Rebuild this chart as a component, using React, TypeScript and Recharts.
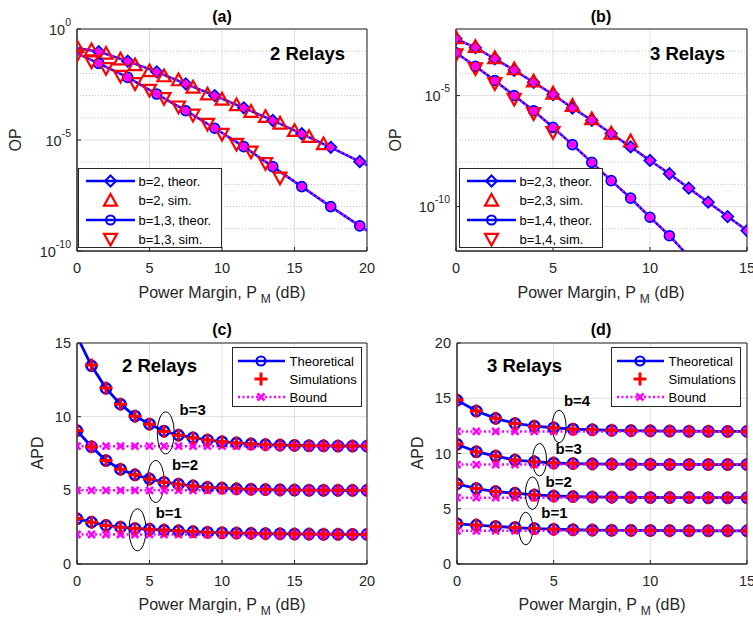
import React from 'react';
import {
  ComposedChart,
  Line,
  XAxis,
  YAxis,
  CartesianGrid,
  ReferenceLine,
  ReferenceDot,
  ReferenceArea,
  Legend,
} from 'recharts';

const FONT = "'Liberation Sans', Arial, Helvetica, sans-serif";
const BLUE = '#0000ff';
const RED = '#ff0000';
const MAG = '#ff00ff';
const AX = '#262626';
const GRID = '#dedede';
const MINOR = '#c2c2c2';

// ---------------- Panel (a): 2 relays, OP (values stored as log10(OP)) ----------------
const aTheorX = [0, 1.5, 3.5, 5.5, 7.5, 9.5, 11.5, 13.5, 15.5, 17.5, 19.5, 20];
const aB2TheorExp = [-0.85, -1.02, -1.45, -1.93, -2.47, -3.0, -3.55, -4.12, -4.72, -5.33, -5.97, -6.13];
const aB13TheorExp = [-1.1, -1.55, -2.18, -2.93, -3.68, -4.47, -5.3, -6.2, -7.1, -8.0, -8.87, -9.08];
const aB2SimX = [0, 1, 2, 3, 4, 5, 6, 7, 8, 9, 10, 11, 12, 13, 14, 15, 16, 17];
const aB2SimExp = [-0.8, -0.95, -1.1, -1.36, -1.62, -1.89, -2.12, -2.3, -2.63, -2.94, -3.17, -3.42, -3.72, -3.95, -4.25, -4.58, -4.85, -5.18];
const aB13SimX = [0, 1, 2, 3, 4, 5, 6, 7, 8, 9, 10, 11, 12, 13, 14];
const aB13SimExp = [-1.17, -1.47, -1.77, -2.12, -2.45, -2.75, -3.12, -3.5, -3.87, -4.28, -4.73, -5.18, -5.53, -6.05, -6.7];
const aXTicks = [0, 5, 10, 15, 20];
const aYTicks = [1e-10, 1e-5, 1];
const aMinorExp = [-1, -2, -3, -4, -6, -7, -8, -9];
const aLegend = ['b=2, theor.', 'b=2, sim.', 'b=1,3, theor.', 'b=1,3, sim.'];

// ---------------- Panel (b): 3 relays, OP (log10 values) ----------------
const bB23TheorX = [0, 1, 2, 3, 4, 5, 6, 7, 8, 9, 10, 11, 12, 13, 14, 15];
const bB23TheorExp = [-2.44, -2.84, -3.34, -3.86, -4.4, -4.95, -5.56, -6.11, -6.71, -7.31, -7.92, -8.52, -9.17, -9.8, -10.45, -11.08];
const bB14TheorX = [0, 1, 2, 3, 4, 5, 6, 7, 8, 9, 10, 11, 12];
const bB14TheorExp = [-3.07, -3.68, -4.32, -5.0, -5.68, -6.43, -7.21, -8.01, -8.83, -9.62, -10.48, -11.31, -12.25];
const bB23SimX = [0, 1, 2, 3, 4, 5, 6, 7, 8, 9];
const bB23SimExp = [-2.4, -2.8, -3.3, -3.8, -4.35, -4.9, -5.45, -6.05, -6.7, -7.05];
const bB14SimX = [0, 1, 2, 3, 4, 5];
const bB14SimExp = [-3.15, -3.78, -4.45, -5.15, -5.8, -6.65];
const bXTicks = [0, 5, 10, 15];
const bYTicks = [1e-10, 1e-5];
const bMinorExp = [-3, -4, -6, -7, -8, -9, -11];
const bLegend = ['b=2,3, theor.', 'b=2,3, sim.', 'b=1,4, theor.', 'b=1,4, sim.'];

// ---------------- Panel (c): 2 relays, APD ----------------
const cX = [0, 1, 2, 3, 4, 5, 6, 7, 8, 9, 10, 11, 12, 13, 14, 15, 16, 17, 18, 19, 20];
const cB3Theor = [15.45, 13.45, 11.92, 10.85, 10.04, 9.5, 9.02, 8.75, 8.57, 8.42, 8.3, 8.22, 8.15, 8.1, 8.07, 8.05, 8.03, 8.02, 8.01, 8.01, 8.0];
const cB2Theor = [9.05, 7.96, 7.02, 6.43, 6.05, 5.78, 5.55, 5.42, 5.3, 5.21, 5.15, 5.1, 5.07, 5.05, 5.03, 5.02, 5.01, 5.01, 5.0, 5.0, 5.0];
const cB1Theor = [3.07, 2.84, 2.62, 2.5, 2.41, 2.37, 2.3, 2.25, 2.2, 2.15, 2.12, 2.1, 2.08, 2.06, 2.05, 2.04, 2.03, 2.02, 2.02, 2.01, 2.01];
const cB3Sim = [15.4, 13.5, 11.95, 10.85, 10.02, 9.48, 9.0, 8.74, 8.56, 8.42, 8.3, 8.22, 8.15, 8.1, 8.07, 8.05, 8.03, 8.02, 8.01, 8.01, 8.0];
const cB2Sim = [9.06, 7.95, 7.03, 6.43, 6.05, 5.77, 5.55, 5.42, 5.3, 5.21, 5.15, 5.1, 5.07, 5.05, 5.03, 5.02, 5.01, 5.01, 5.0, 5.0, 5.0];
const cB1Sim = [3.08, 2.84, 2.62, 2.5, 2.41, 2.36, 2.3, 2.25, 2.2, 2.15, 2.12, 2.1, 2.08, 2.06, 2.05, 2.04, 2.03, 2.02, 2.02, 2.01, 2.01];
const cB3Bound = [8, 8, 8, 8, 8, 8, 8, 8, 8, 8, 8, 8, 8, 8, 8, 8, 8, 8, 8, 8, 8];
const cB2Bound = [5, 5, 5, 5, 5, 5, 5, 5, 5, 5, 5, 5, 5, 5, 5, 5, 5, 5, 5, 5, 5];
const cB1Bound = [2, 2, 2, 2, 2, 2, 2, 2, 2, 2, 2, 2, 2, 2, 2, 2, 2, 2, 2, 2, 2];
const cXTicks = [0, 5, 10, 15, 20];
const cYTicks = [0, 5, 10, 15];
const cEllipses = [
  { x: 6.12, y: 8.9 },
  { x: 5.43, y: 5.6 },
  { x: 4.17, y: 2.32 },
];
const cLabels = [
  { x: 7.98, y: 10.45, text: 'b=3' },
  { x: 7.45, y: 6.72, text: 'b=2' },
  { x: 6.33, y: 3.47, text: 'b=1' },
];

// ---------------- Panel (d): 3 relays, APD ----------------
const dX = [0, 1, 2, 3, 4, 5, 6, 7, 8, 9, 10, 11, 12, 13, 14, 15];
const dB4Theor = [14.83, 13.84, 13.18, 12.72, 12.48, 12.33, 12.21, 12.15, 12.1, 12.07, 12.05, 12.03, 12.02, 12.01, 12.0, 12.0];
const dB3Theor = [10.83, 10.16, 9.77, 9.41, 9.26, 9.14, 9.09, 9.06, 9.04, 9.03, 9.02, 9.01, 9.01, 9.0, 9.0, 9.0];
const dB2Theor = [7.25, 6.83, 6.55, 6.41, 6.25, 6.16, 6.1, 6.07, 6.05, 6.03, 6.02, 6.01, 6.01, 6.0, 6.0, 6.0];
const dB1Theor = [3.64, 3.52, 3.4, 3.3, 3.21, 3.15, 3.1, 3.07, 3.05, 3.04, 3.03, 3.02, 3.01, 3.01, 3.0, 3.0];
const dB4Sim = [14.85, 13.85, 13.2, 12.72, 12.47, 12.33, 12.2, 12.15, 12.1, 12.07, 12.05, 12.03, 12.02, 12.01, 12.0, 12.0];
const dB3Sim = [10.85, 10.15, 9.78, 9.42, 9.26, 9.14, 9.09, 9.06, 9.04, 9.03, 9.02, 9.01, 9.01, 9.0, 9.0, 9.0];
const dB2Sim = [7.26, 6.84, 6.55, 6.41, 6.25, 6.16, 6.1, 6.07, 6.05, 6.03, 6.02, 6.01, 6.01, 6.0, 6.0, 6.0];
const dB1Sim = [3.66, 3.52, 3.4, 3.3, 3.21, 3.15, 3.1, 3.07, 3.05, 3.04, 3.03, 3.02, 3.01, 3.01, 3.0, 3.0];
const dB4Bound = [12, 12, 12, 12, 12, 12, 12, 12, 12, 12, 12, 12, 12, 12, 12, 12];
const dB3Bound = [9, 9, 9, 9, 9, 9, 9, 9, 9, 9, 9, 9, 9, 9, 9, 9];
const dB2Bound = [6, 6, 6, 6, 6, 6, 6, 6, 6, 6, 6, 6, 6, 6, 6, 6];
const dB1Bound = [3, 3, 3, 3, 3, 3, 3, 3, 3, 3, 3, 3, 3, 3, 3, 3];
const dXTicks = [0, 5, 10, 15];
const dYTicks = [0, 5, 10, 15, 20];
const dEllipses = [
  { x: 5.28, y: 12.45 },
  { x: 4.27, y: 9.44 },
  { x: 3.9, y: 6.41 },
  { x: 3.56, y: 3.21 },
];
const dLabels = [
  { x: 6.21, y: 14.8, text: 'b=4' },
  { x: 5.78, y: 10.47, text: 'b=3' },
  { x: 5.26, y: 7.46, text: 'b=2' },
  { x: 5.04, y: 4.69, text: 'b=1' },
];
const apdLegend = ['Theoretical', 'Simulations', 'Bound'];

// ---------------- helpers ----------------
const pts = (xs: number[], ys: number[], isLog = false) =>
  xs.map((x, i) => ({ x, y: isLog ? Math.pow(10, ys[i]) : ys[i] }));

function MarkerShape({ shape, cx, cy, s, stroke, fill = 'none', sw }: any) {
  switch (shape) {
    case 'circle':
      return <circle cx={cx} cy={cy} r={s} stroke={stroke} fill={fill} strokeWidth={sw} />;
    case 'diamond':
      return (
        <polygon
          points={`${cx},${cy - s} ${cx + s},${cy} ${cx},${cy + s} ${cx - s},${cy}`}
          stroke={stroke}
          fill={fill}
          strokeWidth={sw}
          strokeLinejoin="miter"
        />
      );
    case 'triUp':
      return (
        <polygon
          points={`${cx},${cy - s} ${cx + s},${cy + s * 0.8} ${cx - s},${cy + s * 0.8}`}
          stroke={stroke}
          fill={fill}
          strokeWidth={sw}
        />
      );
    case 'triDown':
      return (
        <polygon
          points={`${cx},${cy + s} ${cx + s},${cy - s * 0.8} ${cx - s},${cy - s * 0.8}`}
          stroke={stroke}
          fill={fill}
          strokeWidth={sw}
        />
      );
    case 'plus':
      return (
        <path d={`M${cx - s},${cy}H${cx + s}M${cx},${cy - s}V${cy + s}`} stroke={stroke} strokeWidth={sw} fill="none" />
      );
    case 'x':
      return (
        <path
          d={`M${cx - s},${cy - s}L${cx + s},${cy + s}M${cx - s},${cy + s}L${cx + s},${cy - s}`}
          stroke={stroke}
          strokeWidth={sw}
          fill="none"
        />
      );
    default:
      return <g />;
  }
}

type Spec = {
  id: string;
  data: { x: number; y: number }[];
  color: string;
  lw: number;
  showLine: boolean;
  dash?: string;
  shape: string;
  s: number;
  sw: number;
  fill?: string;
  hide?: (x: number) => boolean;
};

function series(spec: Spec) {
  return (
    <Line
      key={spec.id}
      data={spec.data}
      dataKey="y"
      type="linear"
      stroke={spec.showLine ? spec.color : 'none'}
      strokeWidth={spec.lw}
      strokeDasharray={spec.dash}
      isAnimationActive={false}
      activeDot={false}
      legendType="none"
      dot={(p: any) => {
        const k = `${spec.id}-${p.index}`;
        if (p.cx == null || p.cy == null || (spec.hide && spec.hide(p.payload.x))) return <g key={k} />;
        return (
          <MarkerShape key={k} shape={spec.shape} cx={p.cx} cy={p.cy} s={spec.s} stroke={spec.color} fill={spec.fill ?? 'none'} sw={spec.sw} />
        );
      }}
    />
  );
}

const LogTick = (p: any) => {
  const { x, y, payload } = p;
  const e = Math.round(Math.log10(payload.value));
  return (
    <text x={x} y={y} textAnchor="end" fontFamily={FONT} fill={AX}>
      <tspan fontSize={14.5} dy="0.4em">10</tspan>
      <tspan fontSize={10.5} dy="-0.85em">{e}</tspan>
    </text>
  );
};

type LegendItem = { label: string; line: boolean; dash?: string; color: string; shape: string; s: number; sw: number; fill?: string };

function LegendBox({ items, w, h, rows, lx1, lx2, mx, tx, fs }: any) {
  return (
    <div style={{ width: w, height: h, border: `1px solid ${AX}`, background: '#fff', boxSizing: 'border-box' }}>
      <svg width={w - 2} height={h - 2} style={{ display: 'block' }}>
        {items.map((it: LegendItem, i: number) => (
          <g key={i}>
            {it.line && (
              <line x1={lx1} x2={lx2} y1={rows[i]} y2={rows[i]} stroke={it.color} strokeWidth={2.5} strokeDasharray={it.dash} />
            )}
            <MarkerShape shape={it.shape} cx={mx} cy={rows[i]} s={it.s} stroke={it.color} fill={it.fill ?? 'none'} sw={it.sw} />
            <text x={tx} y={rows[i]} dy="0.36em" fontSize={fs} fontFamily={FONT} fill="#000">
              {it.label}
            </text>
          </g>
        ))}
      </svg>
    </div>
  );
}

const tickStyle = { fill: AX, fontSize: 14.5, fontFamily: FONT };

// ---------------- OP panel ----------------
function OPPanel({ width, height, margin, xDomain, xTicks, yDomain, yTicks, minorExp, specs, legendItems, legendPos }: any) {
  return (
    <ComposedChart width={width} height={height} margin={margin}>
      <CartesianGrid stroke={GRID} strokeWidth={1} />
      {minorExp.map((e: number) => (
        <ReferenceLine key={e} y={Math.pow(10, e)} stroke={MINOR} strokeDasharray="1 2" strokeWidth={1} />
      ))}
      <XAxis
        dataKey="x"
        type="number"
        domain={xDomain}
        ticks={xTicks}
        interval={0}
        allowDataOverflow
        stroke={AX}
        tick={tickStyle}
        tickSize={-4}
        tickMargin={16}
      />
      <YAxis
        type="number"
        scale="log"
        domain={yDomain}
        ticks={yTicks}
        interval={0}
        allowDataOverflow
        width={40}
        stroke={AX}
        tick={(p: any) => <LogTick {...p} />}
        tickSize={-4}
        tickMargin={10}
      />
      <ReferenceArea x1={xDomain[0]} x2={xDomain[1]} y1={yDomain[0]} y2={yDomain[1]} fill="none" stroke={AX} strokeWidth={1} />
      {specs.map((s: Spec) => series(s))}
      <Legend
        layout="horizontal"
        verticalAlign="middle"
        align="center"
        wrapperStyle={{ position: 'absolute', left: legendPos.left, top: legendPos.top, width: 144, height: 80 }}
        content={() => (
          <LegendBox items={legendItems} w={144} h={80} rows={[12, 31.5, 51, 70]} lx1={7} lx2={56} mx={31.5} tx={59.5} fs={13} />
        )}
      />
    </ComposedChart>
  );
}

// ---------------- APD panel ----------------
function APDPanel({ width, height, margin, xDomain, xTicks, yDomain, yTicks, specs, ellipses, labels, eR, legendPos }: any) {
  const legendItems: LegendItem[] = [
    { label: apdLegend[0], line: true, color: BLUE, shape: 'circle', s: 4.5, sw: 2.2 },
    { label: apdLegend[1], line: false, color: RED, shape: 'plus', s: 6.5, sw: 3 },
    { label: apdLegend[2], line: true, dash: '2 2.5', color: MAG, shape: 'x', s: 3.5, sw: 2.5 },
  ];
  return (
    <ComposedChart width={width} height={height} margin={margin}>
      <CartesianGrid stroke={GRID} strokeWidth={1} />
      <XAxis
        dataKey="x"
        type="number"
        domain={xDomain}
        ticks={xTicks}
        interval={0}
        allowDataOverflow
        stroke={AX}
        tick={tickStyle}
        tickSize={-4}
        tickMargin={16}
      />
      <YAxis
        type="number"
        domain={yDomain}
        ticks={yTicks}
        interval={0}
        allowDataOverflow
        width={40}
        stroke={AX}
        tick={tickStyle}
        tickSize={-4}
        tickMargin={10}
      />
      <ReferenceArea x1={xDomain[0]} x2={xDomain[1]} y1={yDomain[0]} y2={yDomain[1]} fill="none" stroke={AX} strokeWidth={1} />
      {specs.map((s: Spec) => series(s))}
      {ellipses.map((e: any, i: number) => (
        <ReferenceDot
          key={`e${i}`}
          x={e.x}
          y={e.y}
          r={1}
          ifOverflow="visible"
          shape={(p: any) => <ellipse cx={p.cx} cy={p.cy} rx={eR[0]} ry={eR[1]} fill="none" stroke="#000" strokeWidth={1} />}
        />
      ))}
      {labels.map((l: any, i: number) => (
        <ReferenceDot
          key={`l${i}`}
          x={l.x}
          y={l.y}
          r={1}
          ifOverflow="visible"
          shape={(p: any) => (
            <text x={p.cx} y={p.cy} dy="0.36em" textAnchor="middle" fontFamily={FONT} fontWeight="bold" fontSize={15} fill="#000">
              {l.text}
            </text>
          )}
        />
      ))}
      <Legend
        layout="horizontal"
        verticalAlign="middle"
        align="center"
        wrapperStyle={{ position: 'absolute', left: legendPos.left, top: legendPos.top, width: 130, height: 60 }}
        content={() => (
          <LegendBox items={legendItems} w={130} h={60} rows={[13, 31, 49]} lx1={5} lx2={52} mx={28} tx={56.5} fs={13} />
        )}
      />
    </ComposedChart>
  );
}

// ---------------- spec builders ----------------
const opSpecs = (prefix: string, tX: number[], tA: number[], sAX: number[], sA: number[], tX2: number[], tB: number[], sBX: number[], sB: number[], hideA: any, hideB: any): Spec[] => [
  { id: prefix + 'ta', data: pts(tX, tA, true), color: BLUE, lw: 2.5, showLine: true, shape: 'diamond', s: 5.5, sw: 2, hide: hideA },
  { id: prefix + 'sa', data: pts(sAX, sA, true), color: RED, lw: 0, showLine: false, shape: 'triUp', s: 6.5, sw: 2.2 },
  { id: prefix + 'tb', data: pts(tX2, tB, true), color: BLUE, lw: 2.5, showLine: true, shape: 'circle', s: 4.8, sw: 2, hide: hideB },
  { id: prefix + 'sb', data: pts(sBX, sB, true), color: RED, lw: 0, showLine: false, shape: 'triDown', s: 6.5, sw: 2.2 },
  { id: prefix + 'ma', data: pts(tX, tA, true), color: MAG, lw: 2, showLine: true, dash: '2 2.5', shape: 'diamond', s: 3.8, sw: 1, fill: MAG, hide: hideA },
  { id: prefix + 'mb', data: pts(tX2, tB, true), color: MAG, lw: 2, showLine: true, dash: '2 2.5', shape: 'circle', s: 3.4, sw: 1, fill: MAG, hide: hideB },
];

const apdSpecs = (prefix: string, xs: number[], theor: number[][], bound: number[][], sim: number[][]): Spec[] => [
  ...theor.map((t, i) => ({ id: `${prefix}t${i}`, data: pts(xs, t), color: BLUE, lw: 2.8, showLine: true, shape: 'circle', s: 5, sw: 2.6 })),
  ...bound.map((b, i) => ({ id: `${prefix}b${i}`, data: pts(xs, b), color: MAG, lw: 2.5, showLine: true, dash: '2 2.5', shape: 'x', s: 3.5, sw: 2.6 })),
  ...sim.map((s, i) => ({ id: `${prefix}s${i}`, data: pts(xs, s), color: RED, lw: 0, showLine: false, shape: 'plus', s: 6.5, sw: 3 })),
];

const opLegendItems = (labels: string[]): LegendItem[] => [
  { label: labels[0], line: true, color: BLUE, shape: 'diamond', s: 5.5, sw: 2 },
  { label: labels[1], line: false, color: RED, shape: 'triUp', s: 6.5, sw: 2.2 },
  { label: labels[2], line: true, color: BLUE, shape: 'circle', s: 4.5, sw: 2 },
  { label: labels[3], line: false, color: RED, shape: 'triDown', s: 6.5, sw: 2.2 },
];

// ---------------- overlay text ----------------
function XLabel({ cx, y }: { cx: number; y: number }) {
  return (
    <text x={cx} y={y} textAnchor="middle" fontFamily={FONT} fontSize={16} fill={AX}>
      Power Margin, P
      <tspan dx={4} dy={5} fontSize={12}>M</tspan>
      <tspan dy={-5}> (dB)</tspan>
    </text>
  );
}
function YLabel({ cx, cy, text }: { cx: number; cy: number; text: string }) {
  return (
    <text transform={`translate(${cx},${cy}) rotate(-90)`} x={0} y={0} dy="0.36em" textAnchor="middle" fontFamily={FONT} fontSize={16} fill={AX}>
      {text}
    </text>
  );
}

export default function App() {
  const specsA = opSpecs('a', aTheorX, aB2TheorExp, aB2SimX, aB2SimExp, aTheorX, aB13TheorExp, aB13SimX, aB13SimExp,
    (x: number) => x === 0 || x === 20, (x: number) => x === 0 || x === 20);
  const specsB = opSpecs('b', bB23TheorX, bB23TheorExp, bB23SimX, bB23SimExp, bB14TheorX, bB14TheorExp, bB14SimX, bB14SimExp,
    undefined, (x: number) => x > 11);
  const specsC = apdSpecs('c', cX, [cB3Theor, cB2Theor, cB1Theor], [cB3Bound, cB2Bound, cB1Bound], [cB3Sim, cB2Sim, cB1Sim]);
  const specsD = apdSpecs('d', dX, [dB4Theor, dB3Theor, dB2Theor, dB1Theor], [dB4Bound, dB3Bound, dB2Bound, dB1Bound], [dB4Sim, dB3Sim, dB2Sim, dB1Sim]);

  return (
    <div style={{ position: 'absolute', left: 0, top: 0, width: 753, height: 620, background: '#fff', fontFamily: FONT }}>
      <div style={{ position: 'absolute', left: 0, top: 0 }}>
        <OPPanel
          width={376}
          height={300}
          margin={{ top: 29, right: 9, left: 37, bottom: 19 }}
          xDomain={[0, 20]}
          xTicks={aXTicks}
          yDomain={[1e-10, 1]}
          yTicks={aYTicks}
          minorExp={aMinorExp}
          specs={specsA}
          legendItems={opLegendItems(aLegend)}
          legendPos={{ left: 78, top: 168 }}
        />
      </div>
      <div style={{ position: 'absolute', left: 380, top: 0 }}>
        <OPPanel
          width={373}
          height={300}
          margin={{ top: 29, right: 6, left: 36, bottom: 19 }}
          xDomain={[0, 15]}
          xTicks={bXTicks}
          yDomain={[1e-12, 1e-2]}
          yTicks={bYTicks}
          minorExp={bMinorExp}
          specs={specsB}
          legendItems={opLegendItems(bLegend)}
          legendPos={{ left: 79, top: 168 }}
        />
      </div>
      <div style={{ position: 'absolute', left: 0, top: 300 }}>
        <APDPanel
          width={376}
          height={320}
          margin={{ top: 43, right: 9, left: 37, bottom: 26 }}
          xDomain={[0, 20]}
          xTicks={cXTicks}
          yDomain={[0, 15]}
          yTicks={cYTicks}
          specs={specsC}
          ellipses={cEllipses}
          labels={cLabels}
          eR={[8.5, 21]}
          legendPos={{ left: 232, top: 47 }}
        />
      </div>
      <div style={{ position: 'absolute', left: 380, top: 300 }}>
        <APDPanel
          width={373}
          height={320}
          margin={{ top: 43, right: 6, left: 37, bottom: 26 }}
          xDomain={[0, 15]}
          xTicks={dXTicks}
          yDomain={[0, 20]}
          yTicks={dYTicks}
          specs={specsD}
          ellipses={dEllipses}
          labels={dLabels}
          eR={[7, 16.3]}
          legendPos={{ left: 231, top: 47 }}
        />
      </div>
      <svg width={753} height={620} style={{ position: 'absolute', left: 0, top: 0, pointerEvents: 'none' }}>
        <text x={222} y={22} textAnchor="middle" fontFamily={FONT} fontWeight="bold" fontSize={16} fill="#000">(a)</text>
        <text x={601} y={22} textAnchor="middle" fontFamily={FONT} fontWeight="bold" fontSize={16} fill="#000">(b)</text>
        <text x={222} y={335} textAnchor="middle" fontFamily={FONT} fontWeight="bold" fontSize={16} fill="#000">(c)</text>
        <text x={601} y={335} textAnchor="middle" fontFamily={FONT} fontWeight="bold" fontSize={16} fill="#000">(d)</text>
        <text x={270} y={60} fontFamily={FONT} fontWeight="bold" fontSize={18.5} fill="#000">2 Relays</text>
        <text x={650} y={60} fontFamily={FONT} fontWeight="bold" fontSize={18.5} fill="#000">3 Relays</text>
        <text x={122} y={372} fontFamily={FONT} fontWeight="bold" fontSize={18.5} fill="#000">2 Relays</text>
        <text x={487} y={372} fontFamily={FONT} fontWeight="bold" fontSize={18.5} fill="#000">3 Relays</text>
        <XLabel cx={222} y={298} />
        <XLabel cx={601} y={298} />
        <XLabel cx={222} y={610} />
        <XLabel cx={602} y={610} />
        <YLabel cx={15.5} cy={140} text="OP" />
        <YLabel cx={395.5} cy={140} text="OP" />
        <YLabel cx={37.5} cy={453} text="APD" />
        <YLabel cx={417.5} cy={453} text="APD" />
      </svg>
    </div>
  );
}
